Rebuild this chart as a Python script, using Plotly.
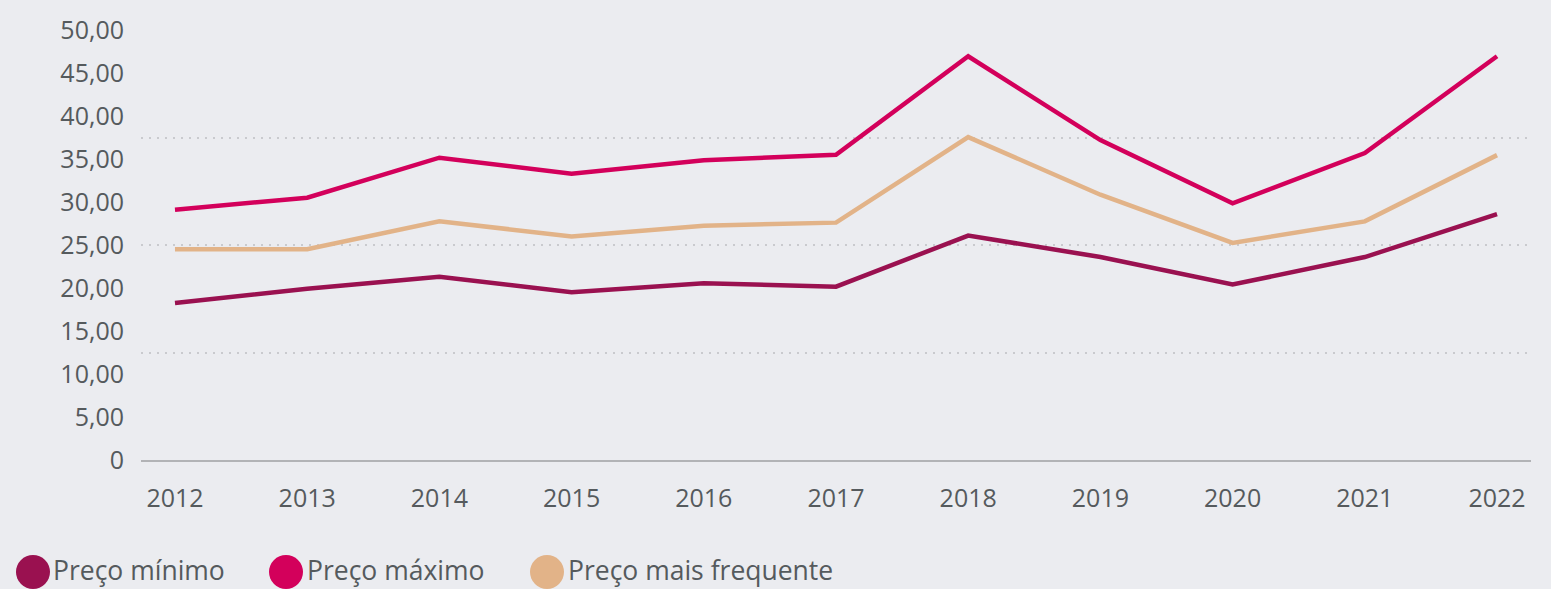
import plotly.graph_objects as go

years = [2012, 2013, 2014, 2015, 2016, 2017, 2018, 2019, 2020, 2021, 2022]
preco_minimo = [18.25, 19.9, 21.3, 19.5, 20.55, 20.15, 26.1, 23.6, 20.4, 23.6, 28.6]
preco_maximo = [29.1, 30.5, 35.15, 33.3, 34.85, 35.5, 46.95, 37.2, 29.85, 35.7, 46.95]
preco_frequente = [24.5, 24.5, 27.75, 26.0, 27.25, 27.6, 37.55, 30.85, 25.25, 27.75, 35.45]
series_names = ["Preço mínimo", "Preço máximo", "Preço mais frequente"]
series_colors = ["#9a1150", "#d3005b", "#e2b388"]
y_ticks = [0, 5, 10, 15, 20, 25, 30, 35, 40, 45, 50]
y_tick_text = ["0" if v == 0 else f"{v:.2f}".replace(".", ",") for v in y_ticks]
grid_values = [12.5, 25, 37.5, 50]

W, H = 1551, 589
L, R, T, B = 141, 20, 26, 129
PW, PH = W - L - R, H - T - B
BG = "#ebecf0"
TXT = "#555a5d"
FONT = "Open Sans, sans-serif"

fig = go.Figure()
for name, vals, col in zip(series_names, [preco_minimo, preco_maximo, preco_frequente], series_colors):
    fig.add_trace(go.Scatter(x=years, y=vals, mode="lines", name=name,
                             line=dict(color=col, width=4.5), showlegend=False))

# invisible trace on secondary y axis for dotted gridlines
fig.add_trace(go.Scatter(x=[years[0]], y=[0], yaxis="y2", mode="markers",
                         marker=dict(opacity=0), showlegend=False, hoverinfo="skip"))

fig.update_layout(
    width=W, height=H,
    margin=dict(l=L, r=R, t=T, b=B),
    paper_bgcolor=BG, plot_bgcolor=BG,
    font=dict(family=FONT, color=TXT, size=24),
    xaxis=dict(range=[2011.743, 2022.257], tickvals=years, ticktext=[str(y) for y in years],
               showgrid=False, zeroline=False, showline=True, linecolor="#b2b3b6", linewidth=2,
               ticks="", ticklabelstandoff=15, tickfont=dict(size=25, color=TXT)),
    yaxis=dict(range=[0, 50], tickvals=y_ticks, ticktext=y_tick_text, showgrid=False,
               zeroline=False, ticks="", ticklabelstandoff=16, tickfont=dict(size=25, color=TXT)),
    yaxis2=dict(range=[0, 50], overlaying="y", tickvals=grid_values, showticklabels=False,
                showgrid=True, gridcolor="#c9cace", griddash="2px,6px", gridwidth=2,
                zeroline=False, side="left"),
)

def px_x(p):
    return (p - L) / PW

def px_y(p):
    return (H - B - p) / PH

legend_circle_x = [33, 286, 547]
legend_text_x = [52, 306, 567]
legend_circle_y = 573
legend_text_y = 571
for name, col, cx, tx in zip(series_names, series_colors, legend_circle_x, legend_text_x):
    fig.add_shape(type="circle", xref="paper", yref="paper", xsizemode="pixel", ysizemode="pixel",
                  xanchor=px_x(cx), yanchor=px_y(legend_circle_y), x0=-17, x1=17, y0=-17, y1=17,
                  fillcolor=col, line=dict(width=0))
    fig.add_annotation(text=name, xref="paper", yref="paper", x=px_x(tx), y=px_y(legend_text_y),
                       xanchor="left", yanchor="middle", showarrow=False, borderpad=0,
                       font=dict(size=26.5, color=TXT, family=FONT))

fig.write_html("out.html", config={"displayModeBar": False},
               post_script="document.body.style.margin='0';document.body.style.background='#ebecf0';")
